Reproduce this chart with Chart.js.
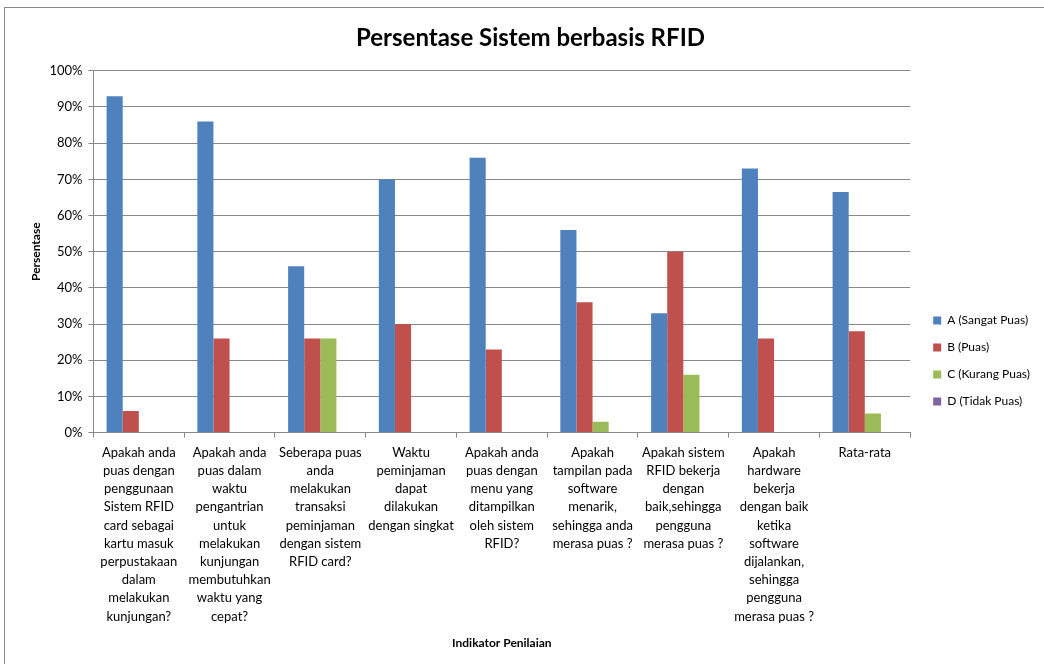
<!DOCTYPE html>
<html>
<head>
<meta charset="utf-8">
<script src="https://cdn.jsdelivr.net/npm/chart.js@4.4.0/dist/chart.umd.min.js"></script>
<style>
  html, body { margin: 0; padding: 0; background: #fff; }
  #wrap { width: 1044px; height: 664px; }
</style>
</head>
<body>
<div id="wrap"><canvas id="chart" width="1044" height="664"></canvas></div>
<script>
// indikator penilaian (x categories)
const categories = [
    ["Apakah anda", "puas dengan", "penggunaan", "Sistem RFID", "card sebagai", "kartu masuk", "perpustakaan", "dalam", "melakukan", "kunjungan?"],
    ["Apakah anda", "puas dalam", "waktu", "pengantrian", "untuk", "melakukan", "kunjungan", "membutuhkan", "waktu yang", "cepat?"],
    ["Seberapa puas", "anda", "melakukan", "transaksi", "peminjaman", "dengan sistem", "RFID card?"],
    ["Waktu", "peminjaman", "dapat", "dilakukan", "dengan singkat"],
    ["Apakah anda", "puas dengan", "menu yang", "ditampilkan", "oleh sistem", "RFID?"],
    ["Apakah", "tampilan pada", "software", "menarik,", "sehingga anda", "merasa puas ?"],
    ["Apakah sistem", "RFID bekerja", "dengan", "baik,sehingga", "pengguna", "merasa puas ?"],
    ["Apakah", "hardware", "bekerja", "dengan baik", "ketika", "software", "dijalankan,", "sehingga", "pengguna", "merasa puas ?"],
    "Rata-rata"
]

// persentase per jawaban
const sangatPuas = [93, 86, 46, 70, 76, 56, 33, 73, 66.5]
const puas = [6, 26, 26, 30, 23, 36, 50, 26, 28]
const kurangPuas = [0, 0, 26, 0, 0, 3, 16, 0, 5.3]
const tidakPuas = [0, 0, 0, 0, 0, 0, 0, 0, 0]

const yTicks = [0, 10, 20, 30, 40, 50, 60, 70, 80, 90, 100]

const FONT = "Lato, 'Open Sans', sans-serif"

function makeSet(label, data, color) {
    return {
        label: label,
        data: data,
        backgroundColor: color,
        borderWidth: 0,
        categoryPercentage: 0.71,
        barPercentage: 1.0
    }
}

// thin frame around the whole chart, like the excel chart border
const framePlugin = {
    id: 'frame',
    beforeDraw(chart) {
        const ctx = chart.ctx
        ctx.save()
        ctx.fillStyle = '#fff'
        ctx.fillRect(0, 0, chart.width, chart.height)
        ctx.strokeStyle = '#8a8a8a'
        ctx.lineWidth = 1
        ctx.strokeRect(4.5, 7.5, chart.width + 10, chart.height + 10)
        ctx.restore()
    }
}

// nudge the legend a bit right and down, excel puts it lower than chart.js does
const legendShift = {
    id: 'legendShift',
    afterLayout(chart) {
        const lg = chart.legend
        if (!lg) return
        lg.left += 8
        lg.right += 8
        lg.top += 36
        lg.bottom += 36
    }
}

new Chart(document.getElementById('chart'), {
    type: 'bar',
    data: {
        labels: categories,
        datasets: [
            makeSet('A (Sangat Puas)', sangatPuas, '#4F81BD'),
            makeSet('B (Puas)', puas, '#C0504D'),
            makeSet('C (Kurang Puas)', kurangPuas, '#9BBB59'),
            makeSet('D (Tidak Puas)', tidakPuas, '#8064A2')
        ]
    },
    options: {
        responsive: false,
        animation: false,
        layout: {
            padding: { left: 29, right: 12, top: 0, bottom: 14 }
        },
        plugins: {
            title: {
                display: true,
                text: 'Persentase Sistem berbasis RFID',
                color: '#000',
                font: { family: FONT, size: 24, weight: 'bold' },
                padding: { top: 24, bottom: 18 }
            },
            legend: {
                position: 'right',
                labels: {
                    boxWidth: 8,
                    boxHeight: 8,
                    padding: 15,
                    color: '#000',
                    font: { family: FONT, size: 12 }
                }
            },
            tooltip: { enabled: false }
        },
        scales: {
            x: {
                grid: {
                    offset: true,
                    drawOnChartArea: false,
                    drawTicks: true,
                    tickLength: 5,
                    color: '#888'
                },
                border: { color: '#888' },
                ticks: {
                    maxRotation: 0,
                    minRotation: 0,
                    autoSkip: false,
                    padding: 6,
                    color: '#000',
                    font: { family: FONT, size: 13, lineHeight: 1.4 }
                },
                title: {
                    display: true,
                    text: 'Indikator Penilaian',
                    color: '#000',
                    font: { family: FONT, size: 12, weight: 'bold' },
                    padding: { top: 4, bottom: 0 }
                }
            },
            y: {
                min: 0,
                max: 100,
                afterBuildTicks(axis) {
                    axis.ticks = yTicks.map(v => ({ value: v }))
                },
                grid: {
                    color: '#888',
                    tickLength: 5
                },
                border: { color: '#888' },
                ticks: {
                    padding: 6,
                    color: '#000',
                    font: { family: FONT, size: 13 },
                    callback: v => v + '%'
                },
                title: {
                    display: true,
                    text: 'Persentase',
                    color: '#000',
                    font: { family: FONT, size: 12, weight: 'bold' },
                    padding: { top: 0, bottom: 0 }
                }
            }
        }
    },
    plugins: [framePlugin, legendShift]
})
</script>
</body>
</html>
